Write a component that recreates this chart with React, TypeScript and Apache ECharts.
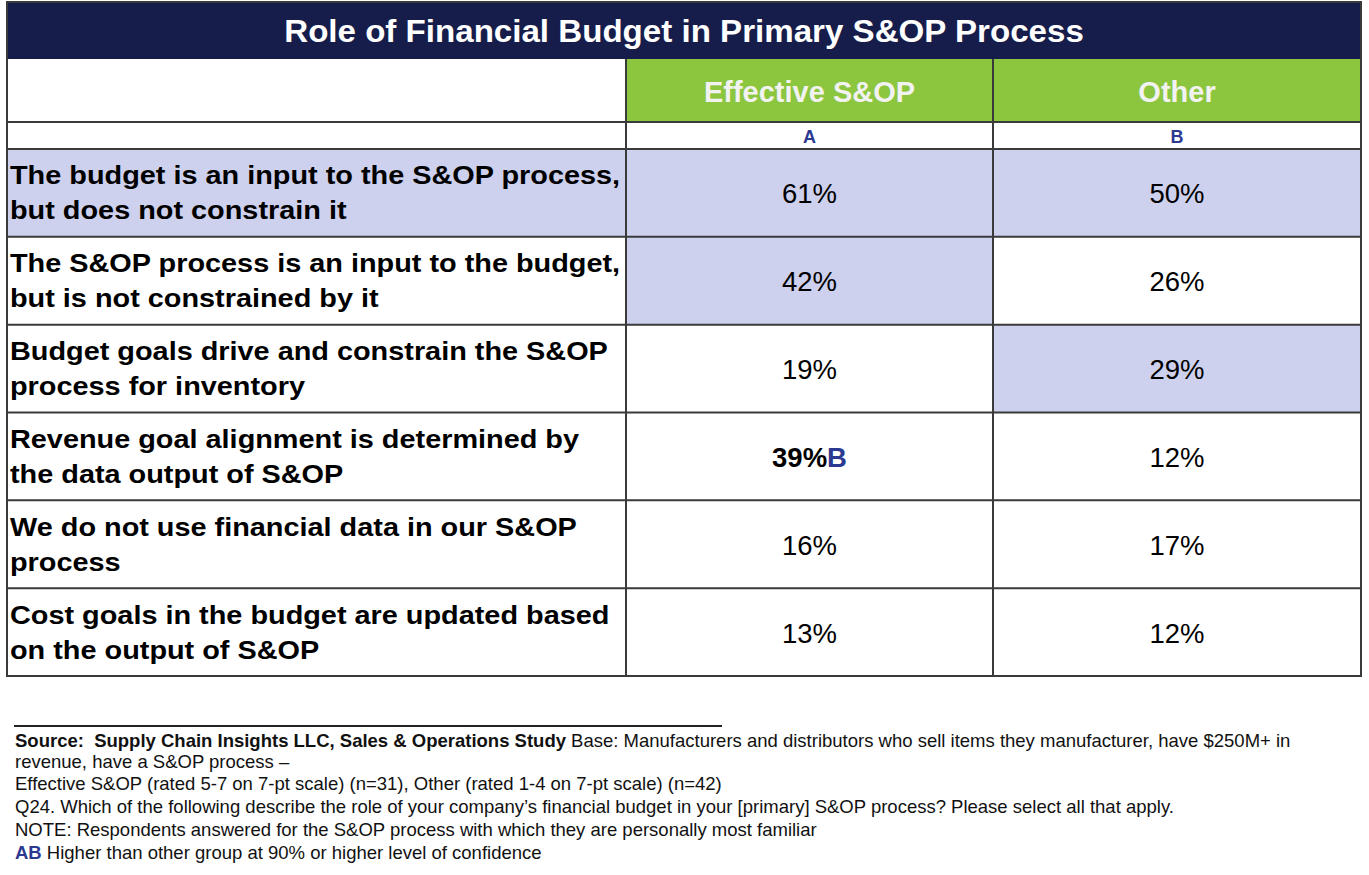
import React, { useEffect, useRef } from "react";
import * as echarts from "echarts";

const title = "Role of Financial Budget in Primary S&OP Process";
const groupNames = ["Effective S&OP", "Other"];
const groupLetters = ["A", "B"];
const rowLabels = [
  ["The budget is an input to the S&OP process,", "but does not constrain it"],
  ["The S&OP process is an input to the budget,", "but is not constrained by it"],
  ["Budget goals drive and constrain the S&OP", "process for inventory"],
  ["Revenue goal alignment is determined by", "the data output of S&OP"],
  ["We do not use financial data in our S&OP", "process"],
  ["Cost goals in the budget are updated based", "on the output of S&OP"],
];
const effectiveValues = [61, 42, 19, 39, 16, 13];
const otherValues = [50, 26, 29, 12, 17, 12];
const highlightLabel = [true, false, false, false, false, false];
const highlightEffective = [true, true, false, false, false, false];
const highlightOther = [true, false, true, false, false, false];
const sigEffective = ["", "", "", "B", "", ""];
const sigOther = ["", "", "", "", "", ""];
const footnotes = [
  "revenue, have a S&OP process \u2013",
  "Effective S&OP (rated 5-7 on 7-pt scale) (n=31), Other (rated 1-4 on 7-pt scale) (n=42)",
  "Q24. Which of the following describe the role of your company\u2019s financial budget in your [primary] S&OP process? Please select all that apply.",
  "NOTE: Respondents answered for the S&OP process with which they are personally most familiar",
];
const sourceBold = "Source:  Supply Chain Insights LLC, Sales & Operations Study";
const sourceRest = " Base: Manufacturers and distributors who sell items they manufacturer, have $250M+ in";
const legendLetters = "AB";
const legendText = " Higher than other group at 90% or higher level of confidence";

const NAVY = "#161d4a";
const GREEN = "#8cc63f";
const LAV = "#cdd1ee";
const BLUE = "#2b3990";
const GRID = "#3a3a3a";
const FONT = "Liberation Sans, Arial, sans-serif";

export default function App() {
  const ref = useRef<HTMLDivElement>(null);
  useEffect(() => {
    document.body.style.margin = "0";
    const chart = echarts.init(ref.current!, null, { renderer: "svg" });
    const L = 7, C1 = 626, C2 = 993, R = 1361;
    const T = 2, H1 = 59, H2 = 122, H3 = 149, B = 676;
    const rowH = (B - H3) / rowLabels.length;
    const els: any[] = [];
    els.push({ type: "rect", shape: { x: L, y: T, width: R - L, height: H1 - T }, style: { fill: NAVY } });
    els.push({ type: "text", x: (L + R) / 2, y: (T + H1) / 2 + 1, scaleX: 1.035, style: { text: title, fill: "#ffffff", font: `bold 32px ${FONT}`, align: "center", verticalAlign: "middle" } });
    const cols = [[C1, C2], [C2, R]];
    cols.forEach(([a, b], i) => {
      els.push({ type: "rect", shape: { x: a, y: H1, width: b - a, height: H2 - H1 }, style: { fill: GREEN } });
      els.push({ type: "text", x: (a + b) / 2, y: (H1 + H2) / 2 + 1, style: { text: groupNames[i], fill: "#f2f2f2", font: `bold 29px ${FONT}`, align: "center", verticalAlign: "middle" } });
      els.push({ type: "text", x: (a + b) / 2, y: (H2 + H3) / 2 + 1, style: { text: groupLetters[i], fill: BLUE, font: `bold 18px ${FONT}`, align: "center", verticalAlign: "middle" } });
    });
    rowLabels.forEach((lines, r) => {
      const y0 = H3 + r * rowH;
      const mid = y0 + rowH / 2;
      if (highlightLabel[r]) els.push({ type: "rect", shape: { x: L, y: y0, width: C1 - L, height: rowH }, style: { fill: LAV } });
      if (highlightEffective[r]) els.push({ type: "rect", shape: { x: C1, y: y0, width: C2 - C1, height: rowH }, style: { fill: LAV } });
      if (highlightOther[r]) els.push({ type: "rect", shape: { x: C2, y: y0, width: R - C2, height: rowH }, style: { fill: LAV } });
      lines.forEach((t, k) => {
        els.push({ type: "text", x: 10, y: mid + (k - (lines.length - 1) / 2) * 35, scaleX: 1.11, style: { text: t, fill: "#000", font: `bold 26px ${FONT}`, align: "left", verticalAlign: "middle" } });
      });
      const vals = [effectiveValues[r], otherValues[r]];
      const sigs = [sigEffective[r], sigOther[r]];
      cols.forEach(([a, b], i) => {
        const sig = sigs[i];
        const txt = sig ? `{v|${vals[i]}%}{s|${sig}}` : `{n|${vals[i]}%}`;
        els.push({
          type: "text", x: (a + b) / 2, y: mid + 1,
          style: {
            text: txt, align: "center", verticalAlign: "middle",
            rich: {
              n: { fill: "#000", fontSize: 27.5, fontFamily: FONT },
              v: { fill: "#000", fontSize: 27.5, fontFamily: FONT, fontWeight: "bold" },
              s: { fill: BLUE, fontSize: 27.5, fontFamily: FONT, fontWeight: "bold" },
            },
          },
        });
      });
    });
    const hl = [H2, H3];
    for (let r = 1; r < rowLabels.length; r++) hl.push(H3 + r * rowH);
    hl.forEach((y) => els.push({ type: "line", shape: { x1: L, y1: y, x2: R, y2: y }, style: { stroke: GRID, lineWidth: 2 } }));
    els.push({ type: "line", shape: { x1: C1, y1: H1, x2: C1, y2: B }, style: { stroke: GRID, lineWidth: 2 } });
    els.push({ type: "line", shape: { x1: C2, y1: H1, x2: C2, y2: B }, style: { stroke: GRID, lineWidth: 2 } });
    els.push({ type: "rect", shape: { x: L, y: T, width: R - L, height: B - T }, style: { fill: "none", stroke: GRID, lineWidth: 2 } });
    els.push({ type: "line", shape: { x1: 14, y1: 726, x2: 722, y2: 726 }, style: { stroke: "#222", lineWidth: 2 } });
    const fy = [740, 761, 783, 806, 829, 852];
    const FS = 18.5;
    els.push({
      type: "text", x: 15, y: fy[0],
      style: {
        text: `{b|${sourceBold}}{n|${sourceRest}}`, align: "left", verticalAlign: "middle",
        rich: {
          b: { fill: "#111", fontSize: FS, fontFamily: FONT, fontWeight: "bold" },
          n: { fill: "#111", fontSize: FS, fontFamily: FONT },
        },
      },
    });
    footnotes.forEach((t, i) => {
      els.push({ type: "text", x: 15, y: fy[i + 1], style: { text: t, fill: "#111", font: `${FS}px ${FONT}`, align: "left", verticalAlign: "middle" } });
    });
    els.push({
      type: "text", x: 15, y: fy[5],
      style: {
        text: `{b|${legendLetters}}{n|${legendText}}`, align: "left", verticalAlign: "middle",
        rich: {
          b: { fill: BLUE, fontSize: FS, fontFamily: FONT, fontWeight: "bold" },
          n: { fill: "#111", fontSize: FS, fontFamily: FONT },
        },
      },
    });
    chart.setOption({ animation: false, backgroundColor: "#ffffff", graphic: { elements: els } });
    return () => chart.dispose();
  }, []);
  return <div ref={ref} style={{ width: 1369, height: 875 }} />;
}
